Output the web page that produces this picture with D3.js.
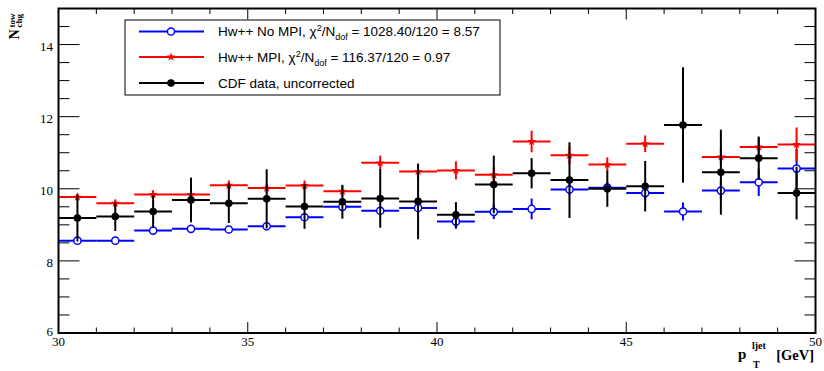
<!DOCTYPE html>
<html><head><meta charset="utf-8">
<script src="https://cdn.jsdelivr.net/npm/d3@7"></script>
<style>body{margin:0;background:#fff}svg{display:block}</style>
</head><body>
<svg id="c" width="824" height="371"></svg>
<script>
const binCenters = [30.5,31.5,32.5,33.5,34.5,35.5,36.5,37.5,38.5,39.5,40.5,41.5,42.5,43.5,44.5,45.5,46.5,47.5,48.5,49.5];
const noMPI    = [8.56,8.56,8.84,8.89,8.87,8.96,9.21,9.50,9.39,9.47,9.09,9.36,9.44,9.98,10.03,9.88,9.37,9.95,10.18,10.56];
const noMPIErr = [0.05,0.05,0.07,0.07,0.08,0.10,0.10,0.12,0.12,0.15,0.20,0.20,0.29,0.15,0.15,0.20,0.25,0.25,0.38,0.54];
const withMPI    = [9.77,9.60,9.84,9.84,10.10,10.02,10.09,9.93,10.72,10.48,10.51,10.39,11.31,10.93,10.67,11.25,11.77,10.88,11.16,11.23];
const withMPIErr = [0.10,0.10,0.12,0.12,0.13,0.13,0.14,0.15,0.20,0.20,0.25,0.22,0.30,0.25,0.20,0.23,0.40,0.22,0.25,0.47];
const cdfData    = [9.19,9.23,9.37,9.69,9.60,9.72,9.51,9.64,9.73,9.65,9.28,10.12,10.43,10.24,10.00,10.07,11.77,10.46,10.85,9.88];
const cdfErr     = [0.65,0.40,0.46,0.62,0.55,0.82,0.62,0.47,0.81,1.05,0.35,0.80,0.42,1.05,0.50,0.70,1.60,1.18,0.60,0.73];
const binWidth = 1;
const xTicksMajor = [30,35,40,45,50];
const yTicksMajor = [6,8,10,12,14];
const legendLabels = [
  {name:"Hw++ No MPI, ", chi:"1028.40/120 = 8.57"},
  {name:"Hw++ MPI, ", chi:"116.37/120 = 0.97"},
  {name:"CDF data, uncorrected", chi:null}
];

const svg = d3.select("#c");
const L=58.5, R=815.5, T=8.5, B=333;
const x = d3.scaleLinear().domain([30,50]).range([L,R]);
const y = d3.scaleLinear().domain([6,15]).range([B,T]);

const series = [
  {vals:noMPI, errs:noMPIErr, color:"#0000ff", marker:"open"},
  {vals:withMPI, errs:withMPIErr, color:"#ff0000", marker:"star"},
  {vals:cdfData, errs:cdfErr, color:"#000000", marker:"dot"}
];

function drawMarker(g, type, color, cx, cy){
  if(type==="open"){
    g.append("circle").attr("cx",cx).attr("cy",cy).attr("r",3.6)
      .attr("fill","#fff").attr("stroke",color).attr("stroke-width",1.5);
  } else if(type==="dot"){
    g.append("circle").attr("cx",cx).attr("cy",cy).attr("r",3.8).attr("fill",color);
  } else {
    g.append("path").attr("d",d3.symbol(d3.symbolStar,24)())
      .attr("transform",`translate(${cx},${cy})`).attr("fill",color);
  }
}

const plot = svg.append("g");
series.forEach(s=>{
  const g = plot.append("g");
  binCenters.forEach((c,i)=>{
    const v=s.vals[i], e=s.errs[i];
    g.append("line").attr("x1",x(c-binWidth/2)).attr("x2",x(c+binWidth/2))
      .attr("y1",y(v)).attr("y2",y(v)).attr("stroke",s.color).attr("stroke-width",2);
    g.append("line").attr("x1",x(c)).attr("x2",x(c))
      .attr("y1",y(v-e)).attr("y2",y(v+e)).attr("stroke",s.color).attr("stroke-width",2);
    drawMarker(g, s.marker, s.color, x(c), y(v));
  });
});

// axes ticks
const ax = svg.append("g").attr("stroke","#000").attr("stroke-width",1);
for(let t=30;t<=50;t+=1){
  const maj = xTicksMajor.includes(t);
  const len = maj?11:5.5;
  ax.append("line").attr("x1",x(t)).attr("x2",x(t)).attr("y1",B).attr("y2",B-len);
  ax.append("line").attr("x1",x(t)).attr("x2",x(t)).attr("y1",T).attr("y2",T+len);
}
for(let t=6;t<=15.001;t+=0.5){
  const maj = yTicksMajor.includes(t);
  const len = maj?21:11;
  ax.append("line").attr("x1",L).attr("x2",L+len).attr("y1",y(t)).attr("y2",y(t));
  ax.append("line").attr("x1",R).attr("x2",R-len).attr("y1",y(t)).attr("y2",y(t));
}
svg.append("rect").attr("x",L).attr("y",T).attr("width",R-L).attr("height",B-T)
  .attr("fill","none").attr("stroke","#000").attr("stroke-width",2);

const serif = "'Liberation Serif','DejaVu Serif',serif";
svg.append("g").selectAll("text").data(xTicksMajor).join("text")
  .attr("x",d=>x(d)).attr("y",346).attr("text-anchor","middle")
  .attr("font-family",serif).attr("font-size",13).text(d=>d);
svg.append("g").selectAll("text").data(yTicksMajor).join("text")
  .attr("x",53).attr("y",d=>y(d)+ (d===6?3:6.5)).attr("text-anchor","end")
  .attr("font-family",serif).attr("font-size",13).text(d=>d);

// y title
const yt = svg.append("g").attr("transform","translate(18.5,39.5) rotate(-90)")
  .attr("font-family",serif).attr("font-weight","bold");
yt.append("text").attr("x",0).attr("y",0).attr("font-size",14).text("N");
yt.append("text").attr("x",12).attr("y",-3.5).attr("font-size",9).text("tow");
yt.append("text").attr("x",12).attr("y",3).attr("font-size",9).text("chg");

// x title
const xt = svg.append("g").attr("font-family",serif).attr("font-weight","bold");
xt.append("text").attr("x",738).attr("y",359).attr("font-size",15).text("p");
xt.append("text").attr("x",752).attr("y",349).attr("font-size",10).text("ljet");
xt.append("text").attr("x",753).attr("y",367.5).attr("font-size",10).text("T");
xt.append("text").attr("x",814).attr("y",359.5).attr("text-anchor","end").attr("font-size",14.5).text("[GeV]");

// legend
const lg = svg.append("g");
lg.append("rect").attr("x",125).attr("y",20).attr("width",375).attr("height",75)
  .attr("fill","#fff").attr("stroke","#000").attr("stroke-width",1);
const rowsY=[31.5,57,83];
const sans="'Liberation Sans',Arial,sans-serif";
series.forEach((s,i)=>{
  const cy=rowsY[i];
  lg.append("line").attr("x1",139).attr("x2",204).attr("y1",cy).attr("y2",cy)
    .attr("stroke",s.color).attr("stroke-width",2);
  drawMarker(lg, s.marker, s.color, 171, cy);
  const t = lg.append("text").attr("x",218).attr("y",cy+4.5).attr("font-family",sans).attr("font-size",13.5);
  const lab=legendLabels[i];
  t.append("tspan").text(lab.name);
  if(lab.chi){
    t.append("tspan").text("χ");
    t.append("tspan").attr("font-size",9).attr("dy",-5).text("2");
    t.append("tspan").attr("dy",5).text("/N");
    t.append("tspan").attr("font-size",9).attr("dy",4).text("dof");
    t.append("tspan").attr("dy",-4).text(" = "+lab.chi);
  }
});
</script>
</body></html>
